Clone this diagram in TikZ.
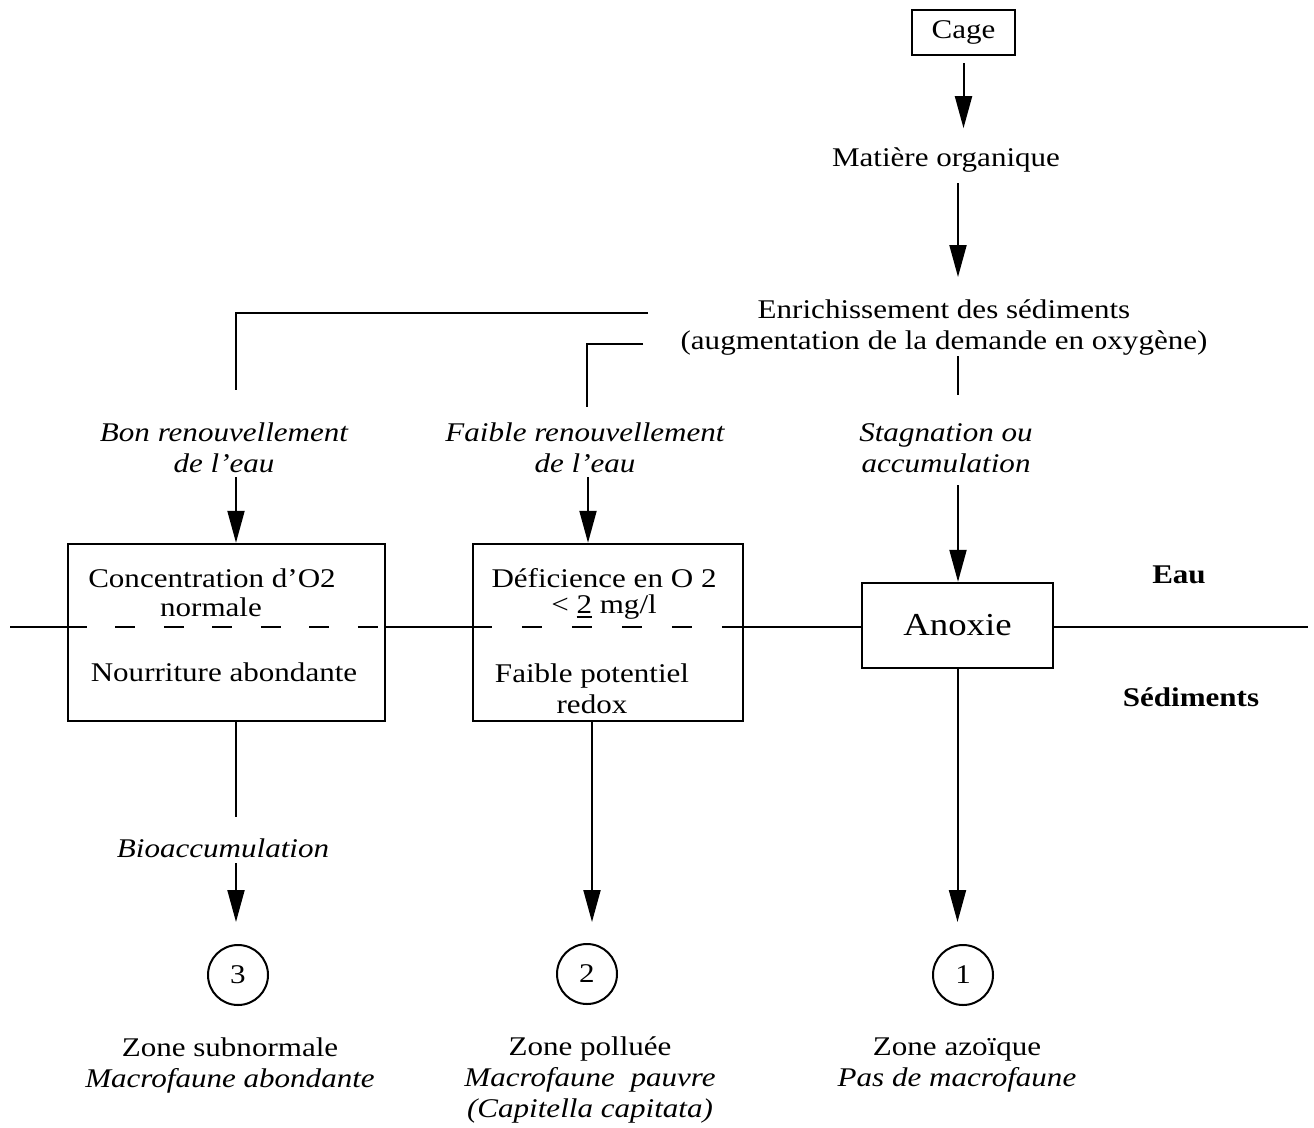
\documentclass[tikz,border=0pt]{standalone}
\usepackage{fontspec}
\setmainfont{Liberation Serif}[FakeStretch=1.15]
\usetikzlibrary{arrows.meta,calc}
\newcommand\thickul[1]{\setbox0\hbox{#1}\rlap{\raisebox{-5pt}{\rule{\wd0}{2pt}}}#1}
\begin{document}
\begin{tikzpicture}[x=1pt,y=-1pt,
  every node/.style={font=\fontsize{27}{31}\selectfont},
  txt/.style={inner sep=0pt, align=center},
  itxt/.style={inner sep=0pt, align=center, font=\fontsize{27}{31}\selectfont\itshape},
  btxt/.style={inner sep=0pt, font=\fontsize{27}{31}\selectfont\bfseries},
  box/.style={draw, line width=2.4pt, inner sep=0pt},
  ln/.style={line width=2pt},
  arr/.style={line width=2pt, -{Triangle[length=32pt,width=17pt]}},
  circ/.style={draw, circle, line width=2pt, minimum size=60pt, inner sep=0pt}]
\useasboundingbox (0,0) rectangle (1314,1127);

% top chain
\node[box, minimum width=103pt, minimum height=45pt] (cage) at (963.5,32.5) {Cage};
\node[txt] (mat) at (946,160) {Matière organique};
\node[txt] (enr) at (944,328) {Enrichissement des sédiments\\(augmentation de la demande en oxygène)};

% branch labels
\node[itxt] (bon) at (224,448) {Bon renouvellement\\de l'eau};
\node[itxt] (fai) at (585,448) {Faible renouvellement\\de l'eau};
\node[itxt] (stag) at (946,448) {Stagnation ou\\accumulation};

% boxes
\node[box, minimum width=317pt, minimum height=177pt] (b1) at (226.5,632.5) {};
\node[box, minimum width=270pt, minimum height=177pt] (b2) at (608,632.5) {};
\node[box, minimum width=191pt, minimum height=85pt, font=\fontsize{32}{36}\selectfont] (anox) at (957.5,625.5) {Anoxie};

% box texts
\node[txt] (c1) at (212,578) {Concentration d'O2};
\node[txt] (c2) at (211,607) {normale};
\node[txt] (c3) at (224,672) {Nourriture abondante};
\node[txt] (d1) at (604,578) {Déficience en O 2};
\node[txt] (d2) at (604,607) {< \thickul{2} mg/l};
\node[txt] (d3) at (592,689) {Faible potentiel\\redox};

% side labels
\node[btxt] (eau) at (1179,575) {Eau};
\node[btxt] (sed) at (1191,697) {Sédiments};

% lower part
\node[itxt] (bio) at (223,848) {Bioaccumulation};
\node[circ] (n3) at (238,975) {3};
\node[circ] (n2) at (587,974) {2};
\node[circ] (n1) at (963,975) {1};

\node[txt] (z3) at (230,1065) {Zone subnormale\\\textit{Macrofaune abondante}};
\node[txt] (z2) at (590,1080) {Zone polluée\\\textit{Macrofaune\ \ pauvre}\\\textit{(Capitella capitata)}};
\node[txt] (z1) at (957,1065) {Zone azoïque\\\textit{Pas de macrofaune}};

% coordinates for free ends
\coordinate (mA) at (958,183);
\coordinate (mB) at (958,277);
\coordinate (e1) at (648,313);
\coordinate (t1) at (236,390);
\coordinate (e2) at (643,344);
\coordinate (t2) at (587,407);
\coordinate (e3) at (958,356);
\coordinate (e4) at (958,395);
\coordinate (u1) at (236,477);
\coordinate (u2) at (588,477);
\coordinate (u3) at (958,485);
\coordinate (v1) at (236,817);
\coordinate (w1) at (236,863);
\coordinate (x2) at (592,700);
\coordinate (iL) at (10,627);
\coordinate (iR) at (1308,627);

% connectors
\draw[arr] ([yshift=-7pt]cage.south) -- ++(0,65);
\draw[arr] (mA) -- (mB);
\draw[ln] (e1) -| (t1);
\draw[ln] (e2) -| (t2);
\draw[ln] (e3) -- (e4);
\draw[arr] (u1) -- (u1 |- b1.north);
\draw[arr] (u2) -- (u2 |- b2.north);
\draw[arr] (u3) -- (u3 |- anox.north);
\draw[ln] (b1.south -| u1) -- (v1);
\draw[arr, shorten >=22pt] (w1) -- (w1 |- n3.north);
\draw[arr, shorten >=21pt] (b2.south -| x2) -- (x2 |- n2.north);
\draw[arr, shorten >=22pt] (anox.south) -- (anox.south |- n1.north);

% water / sediment interface
\draw[ln] (iL) -- (iL -| b1.west);
\draw[ln, dash pattern=on 20pt off 28.5pt] (iL -| b1.west) -- (iL -| b1.east);
\draw[ln] (iL -| b1.east) -- (iL -| b2.west);
\draw[ln, dash pattern=on 20pt off 30pt] (iL -| b2.west) -- (iL -| b2.east);
\draw[ln] (iL -| b2.east) -- (iL -| anox.west);
\draw[ln] (iL -| anox.east) -- (iR);
\end{tikzpicture}
\end{document}
